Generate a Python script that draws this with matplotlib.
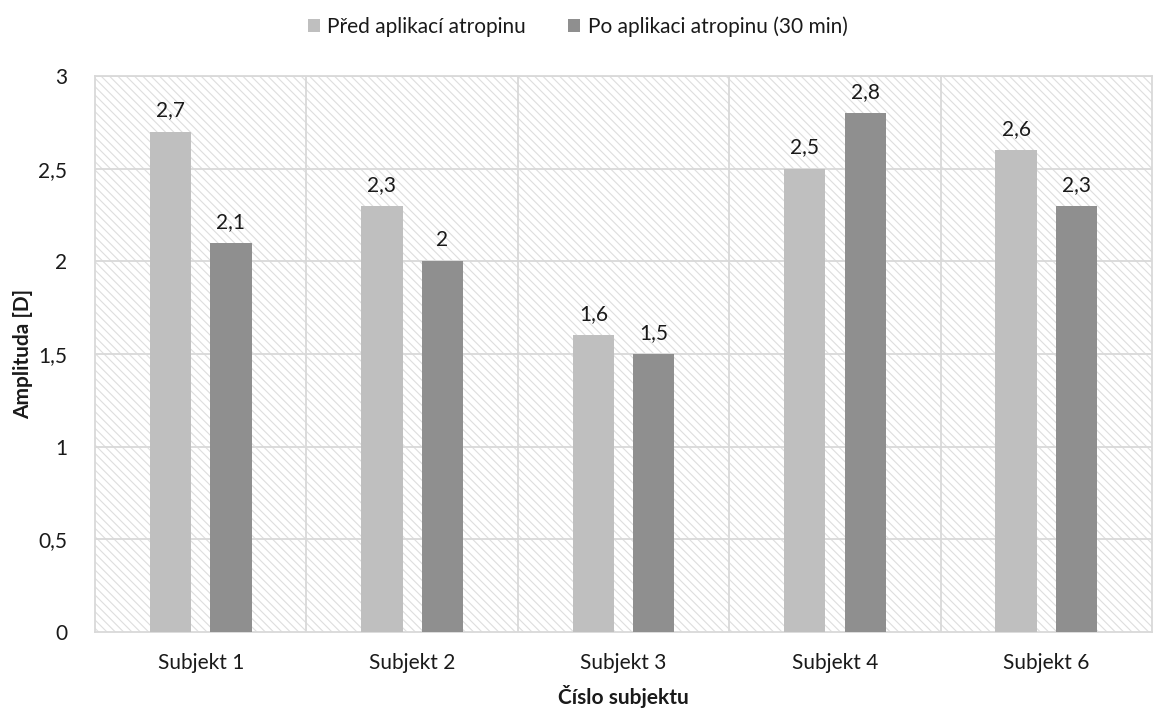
import matplotlib
matplotlib.use("Agg")
import matplotlib.pyplot as plt
from matplotlib.patches import Rectangle
import numpy as np

plt.rcParams['font.family'] = ['Lato', 'DejaVu Sans']
plt.rcParams['hatch.color'] = '#dedede'
plt.rcParams['hatch.linewidth'] = 0.8

categories = ["Subjekt 1", "Subjekt 2", "Subjekt 3", "Subjekt 4", "Subjekt 6"]
before = [2.7, 2.3, 1.6, 2.5, 2.6]
after = [2.1, 2.0, 1.5, 2.8, 2.3]
series_names = ["Před aplikací atropinu", "Po aplikaci atropinu (30 min)"]
y_ticks = [0, 0.5, 1, 1.5, 2, 2.5, 3]

light = '#bfbfbf'
dark = '#8f8f8f'
grid_c = '#d9d9d9'
txt_c = '#1a1a1a'
fs = 15

fig = plt.figure(figsize=(11.55, 7.13), dpi=100)
ax = fig.add_axes([0.0823, 0.1136, 0.9151, 0.7798])

# hatched plot area
ax.add_patch(Rectangle((0, 0), 1, 1, transform=ax.transAxes, facecolor='white',
                       edgecolor='#dedede', hatch='\\\\\\\\', lw=0, zorder=0))

x = np.arange(len(categories))
w = 0.195
off = 0.143
b1 = ax.bar(x - off, before, w, color=light, zorder=3, label=series_names[0])
b2 = ax.bar(x + off, after, w, color=dark, zorder=3, label=series_names[1])

def fmt(v):
    return f"{v:g}".replace('.', ',')

for bars, vals in ((b1, before), (b2, after)):
    for rect, v in zip(bars, vals):
        ax.annotate(fmt(v), (rect.get_x() + rect.get_width() / 2, v),
                    xytext=(0, 8), textcoords='offset points', ha='center', va='bottom',
                    fontsize=fs, color=txt_c, zorder=4)

ax.set_xlim(-0.5, len(categories) - 0.5)
ax.set_ylim(0, 3)
ax.set_yticks(y_ticks)
ax.set_yticklabels([fmt(v) for v in y_ticks], fontsize=fs, color=txt_c)
ax.set_xticks(x)
ax.set_xticklabels(categories, fontsize=fs, color=txt_c)
ax.tick_params(length=0)
ax.tick_params(axis='x', pad=15)
ax.tick_params(axis='y', pad=20)

for yv in y_ticks[1:]:
    ax.axhline(yv, color=grid_c, lw=1.3, zorder=1)
for xv in np.arange(0.5, len(categories) - 0.5, 1):
    ax.axvline(xv, color=grid_c, lw=1.3, zorder=1)

for s in ax.spines.values():
    s.set_color(grid_c)
    s.set_linewidth(1.3)

ax.set_ylabel("Amplituda [D]", fontsize=fs, fontweight='bold', color=txt_c, labelpad=4)
ax.set_xlabel("Číslo subjektu", fontsize=fs, fontweight='bold', color=txt_c, labelpad=9)

leg = fig.legend(handles=[b1, b2], loc='upper center', bbox_to_anchor=(0.5, 1.003), ncol=2,
                 frameon=False, fontsize=fs, handlelength=0.6, handleheight=0.6,
                 columnspacing=2.0, handletextpad=0.35)
for t in leg.get_texts():
    t.set_color(txt_c)

fig.savefig("out.png", dpi=100)
